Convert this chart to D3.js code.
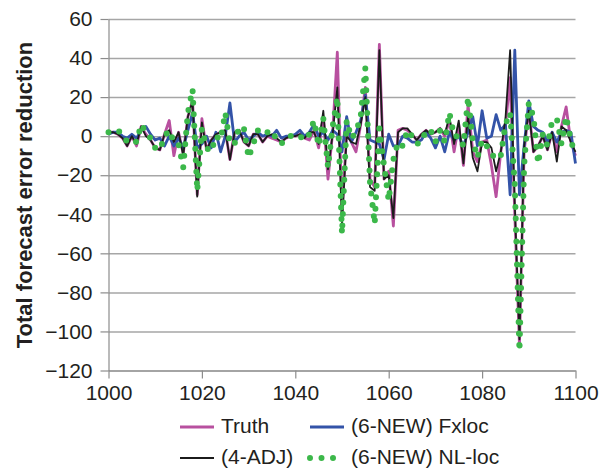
<!DOCTYPE html>
<html>
<head>
<meta charset="utf-8">
<script src="https://cdn.jsdelivr.net/npm/d3@7"></script>
<style>
body { margin: 0; background: #fff; }
text { font-family: "Liberation Sans", Arial, sans-serif; fill: #231f20; }
</style>
</head>
<body>
<div id="chart"></div>
<script>
var w = 602;
var h = 468;
var margin = ({top: 19, right: 26.5, bottom: 97.5, left: 108.5});

// x runs 1000..1100, one value per step
var xStart = 1000;
var truth = [2, 2, 1, -1, -5, 0, -5, 5, 1, -2, -6, -7, 1, 8, -10, 2, -9, 10, 18, -30,
    9, -7, -2, 1, 2, 3, -12, 2, 3, -3, -5, 1, 1, -3, 0, -1, -2, -3, -1, 0,
    0, 1, -1, -2, 3, -6, 10, -22, 2, 43, -40, 2, -3, -8, 6, 25, -22, -26, 47, -22,
    -18, -46, 3, 4, 3, 1, -2, 1, 3, 1, 2, 4, 0, 8, -8, 6, -15, 16, -8, -13,
    -3, -2, -15, -31, -8, 5, 30, -40, -107, -8, 14, -8, -5, 0, -7, 2, -8, 5, 15, -3, -10];
var fxloc = [1, 2, 2, 0, -1, 1, -1, 3, 5, 1, -2, -1, -5, 0, -5, -1, -6, 3, 12, -6,
    -4, 0, -6, 2, -8, 0, 17, -3, 0, 2, -2, 0, 2, 0, 1, 0, 3, -1, 0, 0,
    1, 3, 0, 2, 6, 0, 2, -2, 3, 1, -8, 10, -3, 2, 8, 21, -2, -3, -4, -12,
    1, -5, -5, 0, -1, -3, -3, -2, 2, -1, -6, 0, -8, 2, -2, 0, -5, 2, 10, -5,
    13, -1, 0, 11, 3, 6, -30, 44, -30, -5, 18, 5, 3, 2, -3, 2, -3, 2, 3, 2, -14];
var adj = [2, 2, 1, -1, -5, 0, -4, 5, 0, -2, -6, -7, 1, 3, -3, 2, -10, 10, 18, -31,
    7, -7, -2, 1, 2, 3, -12, 2, 3, -3, -5, 1, 1, -3, 0, 1, -1, -3, -1, 0,
    0, 1, -1, 2, 2, -4, 13, -17, 1, 25, -45, 0, -3, -4, 6, 20, -26, -28, 44, -22,
    -20, -42, 2, 4, 4, 1, -2, 1, 3, 1, 2, 4, 1, 10, -4, 8, -14, 10, -11, -18,
    -3, -3, -6, -18, -8, 9, 44, -35, -104, -5, 13, -8, -5, 0, -7, 2, -13, 5, 3, -3, -8];
var nlloc = [2, 2, 3, 1, -3, -2, -3, 6, 2, -1, -6, -7, 0, 3, -3, -4, -16, 12, 24, -28,
    4, -6, -8, 0, -2, 12, -4, -4, 5, 4, -11, -4, 3, 1, 2, 3, -2, -4, -1, 0,
    1, 0, -2, 1, 8, -5, 9, -16, 5, 20, -50, 8, -1, 2, 10, 35, -24, -45, 4, -15,
    -33, -12, -3, -5, 3, 0, -4, -3, 3, 3, -3, 3, -3, 12, 0, 0, -5, 20, -2, -11,
    -2, -5, -9, -12, -10, 6, 12, -25, -110, -15, 17, 10, -14, 1, -5, 8, 9, -4, 10, -2, -10];

var seriesNames = ["Truth", "(6-NEW) Fxloc", "(4-ADJ)", "(6-NEW) NL-loc"];
var seriesColors = ["#b8509f", "#3353a8", "#1b1b1b", "#3cb84a"];
var yTicks = [-120, -100, -80, -60, -40, -20, 0, 20, 40, 60];
var xTicks = [1000, 1020, 1040, 1060, 1080, 1100];

var allSeries = [truth, fxloc, adj, nlloc];

var svg = d3.select("#chart")
    .append("svg")
    .attr("width", w)
    .attr("height", h);

var xScale = d3.scaleLinear()
    .domain([1000, 1100])
    .range([margin.left, w - margin.right]);

var yScale = d3.scaleLinear()
    .domain([-120, 60])
    .range([h - margin.bottom, margin.top]);

// horizontal grid
svg.append("g")
    .attr("class", "grid")
    .attr("transform", "translate(" + margin.left + ",0)")
    .call(d3.axisLeft(yScale).tickValues(yTicks).tickSize(-(w - margin.left - margin.right)).tickFormat(""))
    .call(function(g) { g.select(".domain").remove(); })
    .selectAll("line")
    .attr("stroke", "#a6a6a6")
    .attr("stroke-width", 1.5);

// y axis
var yAxis = svg.append("g")
    .attr("transform", "translate(" + margin.left + ",0)")
    .call(d3.axisLeft(yScale).tickValues(yTicks).tickSize(8).tickPadding(8).tickSizeOuter(0));
yAxis.select(".domain").attr("stroke", "#8c8c8c").attr("stroke-width", 1.2);
yAxis.selectAll(".tick line").attr("stroke", "#8c8c8c").attr("stroke-width", 1.2);
yAxis.selectAll(".tick text")
    .attr("font-size", 21)
    .attr("font-family", "Liberation Sans, Arial, sans-serif")
    .attr("fill", "#231f20");

// x axis
var xAxis = svg.append("g")
    .attr("transform", "translate(0," + (h - margin.bottom) + ")")
    .call(d3.axisBottom(xScale).tickValues(xTicks).tickSize(8).tickPadding(7).tickSizeOuter(0).tickFormat(d3.format("d")));
xAxis.select(".domain").attr("stroke", "#8c8c8c").attr("stroke-width", 1.2);
xAxis.selectAll(".tick line").attr("stroke", "#8c8c8c").attr("stroke-width", 1.2);
xAxis.selectAll(".tick text")
    .attr("font-size", 21)
    .attr("font-family", "Liberation Sans, Arial, sans-serif")
    .attr("fill", "#231f20");

// y title
svg.append("text")
    .attr("transform", "translate(32,195) rotate(-90)")
    .attr("text-anchor", "middle")
    .attr("font-size", 22)
    .attr("font-weight", "bold")
    .text("Total forecast error reduction");

var line = d3.line()
    .x(function(d, i) { return xScale(xStart + i); })
    .y(function(d) { return yScale(d); });

function styleSeries(sel, i) {
    if (i == 3) {
        sel.attr("stroke-width", 6)
            .attr("stroke-linecap", "round")
            .attr("stroke-dasharray", "0,11.5");
    } else if (i == 2) {
        sel.attr("stroke-width", 1.8);
    } else {
        sel.attr("stroke-width", 2.8);
    }
    sel.attr("stroke", seriesColors[i]).attr("fill", "none");
}

allSeries.forEach(function(data, i) {
    svg.append("path")
        .datum(data)
        .attr("d", line)
        .attr("stroke-linejoin", "round")
        .call(styleSeries, i);
});

// legend, two rows
var legendPos = [[180, 427], [310, 427], [180, 458], [310, 458]];
seriesNames.forEach(function(name, i) {
    var p = legendPos[i];
    svg.append("line")
        .attr("x1", p[0])
        .attr("x2", p[0] + 34)
        .attr("y1", p[1])
        .attr("y2", p[1])
        .call(styleSeries, i);
    svg.append("text")
        .attr("x", p[0] + 41)
        .attr("y", p[1] + 6)
        .attr("font-size", 21)
        .text(name);
});
</script>
</body>
</html>
